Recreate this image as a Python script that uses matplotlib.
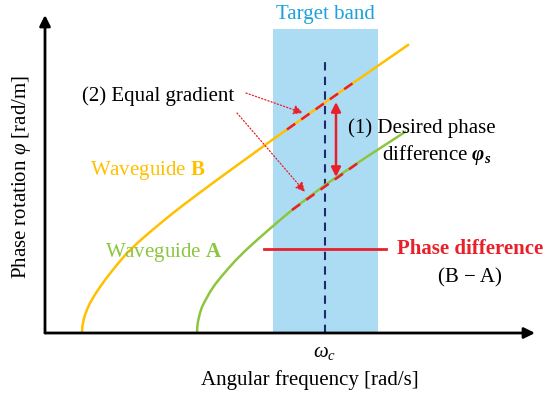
import numpy as np
import matplotlib.pyplot as plt

plt.rcParams['font.family'] = ['Liberation Serif', 'DejaVu Serif']
plt.rcParams['mathtext.fontset'] = 'custom'
plt.rcParams['mathtext.rm'] = 'Liberation Serif'
plt.rcParams['mathtext.it'] = 'Liberation Serif:italic'
plt.rcParams['mathtext.bf'] = 'Liberation Serif:bold'
plt.rcParams['mathtext.bfit'] = 'Liberation Serif:bold:italic'

# dispersion curves (arbitrary units)
freq_b = [37, 37.3, 38, 39, 40, 42, 45, 50, 55, 60, 65, 73, 82, 93, 105, 117, 128, 141, 155, 178, 205, 225, 280, 363]
phase_b = [0, 6, 10, 14.5, 18, 23.5, 30, 38.5, 46, 53, 59.5, 69.5, 80, 90.5, 101, 111, 120, 130, 140.5, 157.5, 177, 191.5, 230.5, 288]
freq_a = [152, 152.3, 153, 154, 155, 157, 160, 165, 170, 176, 182, 190, 200, 212, 224, 238, 252, 266, 280, 320, 360]
phase_a = [0, 6.3, 11.5, 16, 20, 26, 32, 41, 48.5, 56, 63, 72, 82, 93, 103.5, 115.5, 127, 137.5, 148, 175, 201]

# equal-gradient segments (red dashed overlay)
grad_freq_b = [242, 313]
grad_phase_b = [203.5, 253.5]
grad_freq_a = [247, 313]
grad_phase_a = [123, 170]

# target band and centre frequency
band = [228, 333]
band_top = 304
omega_c = 280
omega_top = 271

# desired phase difference arrow, phase difference level line
arrow_freq = 291
arrow_phase = [231, 156]
diff_freq = [219, 341]
diff_level = 84

x_max, y_max = 490, 318

yellow = '#ffc000'
green = '#8cc63f'
red = '#e8202a'
blue_band = '#acdcf4'
blue_text = '#1ba1dc'
navy = '#1f2a6b'

fig = plt.figure(figsize=(5.59, 3.99), dpi=100)
ax = fig.add_axes([45 / 559, 66 / 399, 490 / 559, 318 / 399])
ax.set_xlim(0, x_max)
ax.set_ylim(0, y_max)
ax.axis('off')

# target band
ax.fill_between(band, 0, band_top, color=blue_band, zorder=1, linewidth=0)
ax.text(np.mean(band), y_max, 'Target band', color=blue_text, fontsize=15,
        ha='center', va='center')

# centre frequency
ax.plot([omega_c, omega_c], [0, omega_top], color=navy, linestyle=(0, (4, 3)), linewidth=1.5, zorder=2)
ax.text(omega_c, -19, r'$\omega_c$', fontsize=15, ha='center', va='center', clip_on=False)

# curves
ax.plot(freq_b, phase_b, color=yellow, linewidth=1.8, zorder=3, solid_joinstyle='round')
ax.plot(freq_a, phase_a, color=green, linewidth=1.8, zorder=3, solid_joinstyle='round')
ax.plot(grad_freq_b, grad_phase_b, color=red, linewidth=1.8, linestyle=(0, (4, 3)), zorder=4)
ax.plot(grad_freq_a, grad_phase_a, color=red, linewidth=1.8, linestyle=(0, (4, 3)), zorder=4)

# phase difference arrow
ax.annotate('', xy=(arrow_freq, arrow_phase[0]), xytext=(arrow_freq, arrow_phase[1]),
            arrowprops=dict(arrowstyle='<|-|>', color=red, lw=1.8, mutation_scale=14,
                            shrinkA=0, shrinkB=0), zorder=5)
ax.plot(diff_freq, [diff_level, diff_level], color=red, linewidth=2, zorder=5)

# axes arrows
ax.annotate('', xy=(x_max, 0), xytext=(0, 0),
            arrowprops=dict(arrowstyle='-|>', color='black', lw=2, mutation_scale=16,
                            shrinkA=0, shrinkB=0), annotation_clip=False)
ax.annotate('', xy=(0, y_max), xytext=(0, 0),
            arrowprops=dict(arrowstyle='-|>', color='black', lw=2, mutation_scale=16,
                            shrinkA=0, shrinkB=0), annotation_clip=False)

# equal gradient pointers
for start, end in [((201, 240), (258, 220)), ((192, 220), (260, 141))]:
    ax.annotate('', xy=end, xytext=start,
                arrowprops=dict(arrowstyle='-|>', color=red, lw=0.9, linestyle=':',
                                mutation_scale=14, shrinkA=0, shrinkB=0), zorder=6)

# labels
ax.text(37, 237, '(2) Equal gradient', fontsize=15, ha='left', va='center')
ax.text(45, 163, r'Waveguide $\mathbf{B}$', color=yellow, fontsize=15, ha='left', va='center')
ax.text(60, 81, r'Waveguide $\mathbf{A}$', color=green, fontsize=15, ha='left', va='center')
ax.text(303, 205, '(1) Desired phase', fontsize=15, ha='left', va='center')
ax.text(337, 178, r'difference $\mathbfit{\varphi_s}$', fontsize=15, ha='left', va='center')
ax.text(425, 84, 'Phase difference', color=red, fontsize=15, fontweight='bold',
        ha='center', va='center', clip_on=False)
ax.text(425, 55, '(B \u2212 A)', fontsize=15, ha='center', va='center')

ax.text(265, -47, 'Angular frequency [rad/s]', fontsize=15, ha='center', va='center', clip_on=False)
ax.text(-23, 156, r'Phase rotation $\varphi$ [rad/m]', fontsize=15, rotation=90,
        ha='center', va='center', clip_on=False)

fig.savefig('out.png', dpi=100)
